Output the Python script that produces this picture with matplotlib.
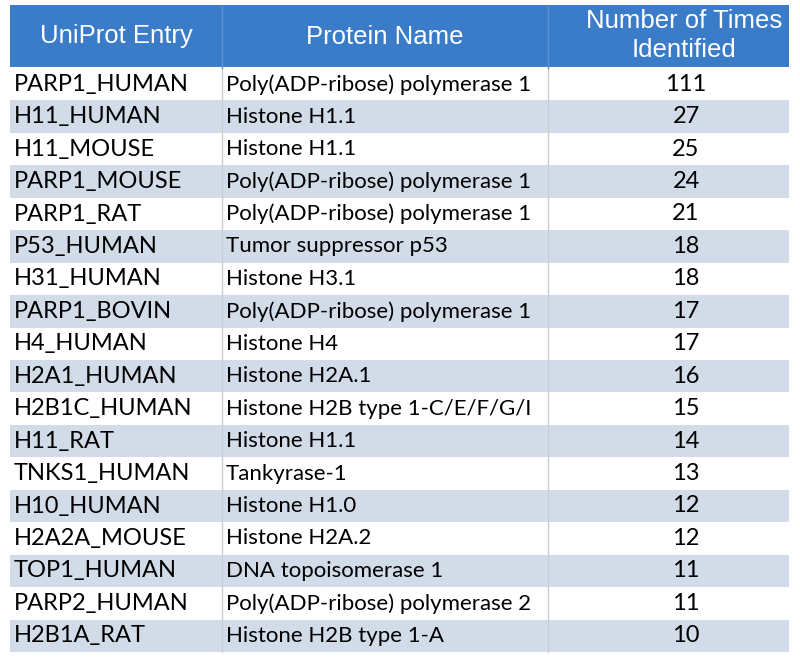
import matplotlib
matplotlib.use("Agg")
import matplotlib.pyplot as plt
from matplotlib.patches import Rectangle

headers = ["UniProt Entry", "Protein Name", "Number of Times\nIdentified"]
entries = ["PARP1_HUMAN", "H11_HUMAN", "H11_MOUSE", "PARP1_MOUSE", "PARP1_RAT",
           "P53_HUMAN", "H31_HUMAN", "PARP1_BOVIN", "H4_HUMAN", "H2A1_HUMAN",
           "H2B1C_HUMAN", "H11_RAT", "TNKS1_HUMAN", "H10_HUMAN", "H2A2A_MOUSE",
           "TOP1_HUMAN", "PARP2_HUMAN", "H2B1A_RAT"]
names = ["Poly(ADP-ribose) polymerase 1", "Histone H1.1", "Histone H1.1",
         "Poly(ADP-ribose) polymerase 1", "Poly(ADP-ribose) polymerase 1",
         "Tumor suppressor p53", "Histone H3.1", "Poly(ADP-ribose) polymerase 1",
         "Histone H4", "Histone H2A.1", "Histone H2B type 1-C/E/F/G/I",
         "Histone H1.1", "Tankyrase-1", "Histone H1.0", "Histone H2A.2",
         "DNA topoisomerase 1", "Poly(ADP-ribose) polymerase 2",
         "Histone H2B type 1-A"]
counts = [111, 27, 25, 24, 21, 18, 18, 17, 17, 16, 15, 14, 13, 12, 12, 11, 11, 10]

W, H = 800, 664
fig = plt.figure(figsize=(8, 6.64), dpi=100)
ax = fig.add_axes([0, 0, 1, 1])
ax.set_xlim(0, W)
ax.set_ylim(H, 0)
ax.axis("off")

left, right = 10, 789
col_edges = [left, 222, 548, right]
top, head_bot, bottom = 5, 68, 652
n = len(entries)
rh = (bottom - head_bot) / n

header_color = "#3b7cc9"
alt_color = "#d2dce8"
body_font = ["Lato", "DejaVu Sans"]
head_font = ["Liberation Sans", "DejaVu Sans"]

ax.add_patch(Rectangle((left, top), right - left, head_bot - top,
                       facecolor=header_color, edgecolor="none"))
for i in range(n):
    y0 = head_bot + i * rh
    fc = "white" if i % 2 == 0 else alt_color
    ax.add_patch(Rectangle((left, y0), right - left, rh, facecolor=fc,
                           edgecolor="none"))
ax.plot([left, right], [head_bot, head_bot], color="white", lw=1.5)
for x in col_edges[1:-1]:
    ax.plot([x, x], [head_bot, bottom], color="#c8cdd4", lw=1)
    ax.plot([x, x], [top, head_bot], color="#5a92d4", lw=1)

hy = (top + head_bot) / 2
c3 = 684
ax.text((col_edges[0] + col_edges[1]) / 2, hy, headers[0],
        ha="center", va="center", color="white", fontsize=18.5, family=head_font)
ax.text((col_edges[1] + col_edges[2]) / 2, hy, headers[1],
        ha="center", va="center", color="white", fontsize=18.5, family=head_font)
ax.text(c3, hy - 1, headers[2],
        ha="center", va="center", color="white", fontsize=18.5, family=head_font,
        linespacing=1.25)

for i in range(n):
    yc = head_bot + (i + 0.5) * rh
    ax.text(col_edges[0] + 4, yc, entries[i], ha="left", va="center",
            fontsize=17, color="black", family=body_font)
    ax.text(col_edges[1] + 4, yc, names[i], ha="left", va="center",
            fontsize=16, color="black", family=body_font)
    ax.text(c3 + 2, yc, str(counts[i]),
            ha="center", va="center", fontsize=17, color="black",
            family=body_font)

fig.savefig("out.png", dpi=100, facecolor="white")
